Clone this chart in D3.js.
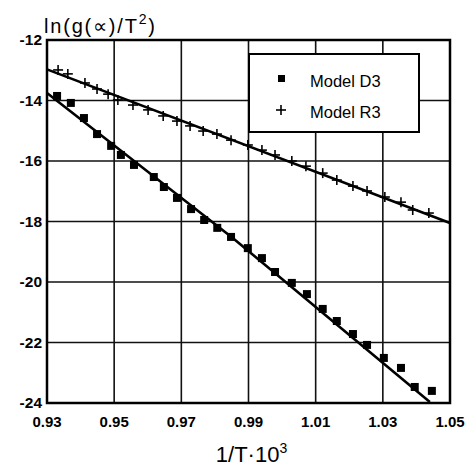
<!DOCTYPE html>
<html>
<head>
<meta charset="utf-8">
<script src="https://cdn.jsdelivr.net/npm/d3@7"></script>
<style>
  body { margin: 0; background: #fff; }
  svg text { font-family: "Liberation Sans", Arial, sans-serif; fill: #000; }
</style>
</head>
<body>
<div id="chart"></div>
<script>
// Model D3 (squares)
const d3X = [0.9330, 0.9371, 0.9410, 0.9449, 0.9491, 0.9520, 0.9559, 0.9618, 0.9648, 0.9687,
             0.9729, 0.9768, 0.9807, 0.9848, 0.9898, 0.9940, 0.9979, 1.0029, 1.0074, 1.0121,
             1.0163, 1.0211, 1.0253, 1.0303, 1.0354, 1.0395, 1.0446];
const d3Y = [-13.85, -14.08, -14.58, -15.11, -15.50, -15.80, -16.13, -16.53, -16.86, -17.22,
             -17.59, -17.95, -18.21, -18.51, -18.88, -19.21, -19.67, -20.03, -20.40, -20.89,
             -21.29, -21.72, -22.08, -22.51, -22.84, -23.47, -23.60];
// Model R3 (crosses)
const r3X = [0.9333, 0.9362, 0.9413, 0.9449, 0.9482, 0.9511, 0.9556, 0.9601, 0.9646, 0.9687,
             0.9726, 0.9765, 0.9806, 0.9848, 0.9898, 0.9940, 0.9979, 1.0029, 1.0071, 1.0121,
             1.0163, 1.0211, 1.0253, 1.0306, 1.0354, 1.0389, 1.0437];
const r3Y = [-12.99, -13.12, -13.42, -13.62, -13.79, -13.98, -14.15, -14.31, -14.51, -14.68,
             -14.84, -15.01, -15.11, -15.31, -15.47, -15.64, -15.80, -16.00, -16.17, -16.40,
             -16.63, -16.83, -16.99, -17.19, -17.36, -17.62, -17.72];
// fitted lines
const fitD3 = [[0.930, -13.75], [0.9854, -18.55], [1.044, -23.97]];
const fitR3 = [[0.930, -12.97], [1.050, -18.05]];

const xTicks = [0.93, 0.95, 0.97, 0.99, 1.01, 1.03, 1.05];
const xTickLabels = ["0.93", "0.95", "0.97", "0.99", "1.01", "1.03", "1.05"];
const yTicks = [-12, -14, -16, -18, -20, -22, -24];
const yTickLabels = ["-12", "-14", "-16", "-18", "-20", "-22", "-24"];
const legendLabels = ["Model D3", "Model R3"];

const W = 469, H = 466;
const margin = { left: 47, top: 40, right: 19, bottom: 63 };
const iw = W - margin.left - margin.right;
const ih = H - margin.top - margin.bottom;

const x = d3.scaleLinear().domain([0.93, 1.05]).range([0, iw]);
const y = d3.scaleLinear().domain([-24, -12]).range([ih, 0]);

const svg = d3.select("#chart").append("svg")
  .attr("width", W).attr("height", H);
const g = svg.append("g").attr("transform", `translate(${margin.left},${margin.top})`);

// grid
g.append("g").selectAll("line").data(xTicks).join("line")
  .attr("x1", d => x(d)).attr("x2", d => x(d))
  .attr("y1", 0).attr("y2", ih)
  .attr("stroke", "#111").attr("stroke-width", 1.6);
g.append("g").selectAll("line").data(yTicks).join("line")
  .attr("y1", d => y(d)).attr("y2", d => y(d))
  .attr("x1", 0).attr("x2", iw)
  .attr("stroke", "#111").attr("stroke-width", 1.6);

// frame
g.append("rect").attr("width", iw).attr("height", ih)
  .attr("fill", "none").attr("stroke", "#000").attr("stroke-width", 2.5);

// tick labels
g.append("g").selectAll("text").data(xTicks).join("text")
  .attr("x", d => x(d)).attr("y", ih + 24)
  .attr("text-anchor", "middle")
  .attr("font-size", 15).attr("font-weight", "bold")
  .text((d, i) => xTickLabels[i]);
g.append("g").selectAll("text").data(yTicks).join("text")
  .attr("x", -5).attr("y", d => y(d) + 5)
  .attr("text-anchor", "end")
  .attr("font-size", 15.5).attr("font-weight", "bold")
  .text((d, i) => yTickLabels[i]);

// axis titles
const yt = svg.append("text").attr("x", 44).attr("y", 33)
  .attr("font-size", 20).attr("letter-spacing", 1.8);
yt.append("tspan").text("ln(g(∝)/T");
yt.append("tspan").attr("dy", -9).attr("font-size", 14).text("2");
yt.append("tspan").attr("dy", 9).text(")");

const xt = svg.append("text").attr("x", margin.left + iw / 2 + 3).attr("y", 462)
  .attr("text-anchor", "middle").attr("font-size", 22);
xt.append("tspan").text("1/T·10");
xt.append("tspan").attr("dy", -9).attr("font-size", 14).text("3");

// fit lines
const line = d3.line().x(d => x(d[0])).y(d => y(d[1]));
[fitD3, fitR3].forEach(f => {
  g.append("path").datum(f).attr("d", line)
    .attr("fill", "none").attr("stroke", "#000").attr("stroke-width", 2.6);
});

// markers
const d3Data = d3X.map((v, i) => [v, d3Y[i]]);
const r3Data = r3X.map((v, i) => [v, r3Y[i]]);
const sq = 8;
g.append("g").selectAll("rect").data(d3Data).join("rect")
  .attr("x", d => x(d[0]) - sq / 2).attr("y", d => y(d[1]) - sq / 2)
  .attr("width", sq).attr("height", sq).attr("fill", "#000");

function drawPlus(sel, s) {
  sel.append("line").attr("x1", -s).attr("x2", s).attr("y1", 0).attr("y2", 0);
  sel.append("line").attr("x1", 0).attr("x2", 0).attr("y1", -s).attr("y2", s);
  sel.attr("stroke", "#000").attr("stroke-width", 1.6);
}
g.append("g").selectAll("g").data(r3Data).join("g")
  .attr("transform", d => `translate(${x(d[0])},${y(d[1])})`)
  .each(function () { drawPlus(d3.select(this), 5); });

// legend
const lg = svg.append("g").attr("transform", "translate(249,54)");
lg.append("rect").attr("width", 170).attr("height", 78)
  .attr("fill", "#fff").attr("stroke", "#000").attr("stroke-width", 2);
lg.append("rect").attr("x", 29).attr("y", 21).attr("width", 7).attr("height", 7).attr("fill", "#000");
drawPlus(lg.append("g").attr("transform", "translate(32,56)"), 5);
lg.selectAll("text.lab").data(legendLabels).join("text")
  .attr("class", "lab")
  .attr("x", 61).attr("y", (d, i) => 33 + i * 31)
  .attr("font-size", 16.5)
  .text(d => d);
</script>
</body>
</html>
